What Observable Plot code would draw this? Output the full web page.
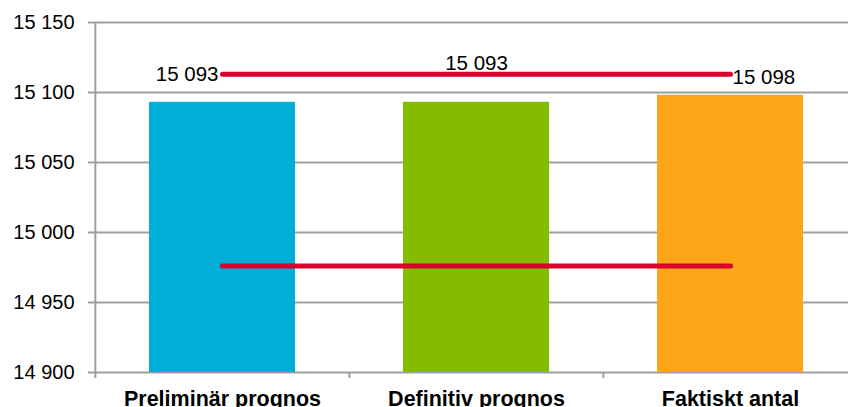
<!DOCTYPE html>
<html>
<head>
<meta charset="utf-8">
<script src="https://cdn.jsdelivr.net/npm/d3@7"></script>
<script src="https://cdn.jsdelivr.net/npm/@observablehq/plot@0.6"></script>
<style>
  html, body { margin: 0; padding: 0; background: #fff; }
  svg { display: block; }
</style>
</head>
<body>
<div id="chart"></div>
<script>
// ---- data ----
const categories = ["Preliminär prognos", "Definitiv prognos", "Faktiskt antal"];
const values = [15093, 15093, 15098];
const colors = ["#00AED8", "#84BD00", "#FFA51A"];
const upperLine = [15113, 15113, 15113];
const lowerLine = [14976, 14976, 14976];
const yTicks = [14900, 14950, 15000, 15050, 15100, 15150];

// ---- tables ----
const bars = categories.map((c, i) => ({cat: c, value: values[i], color: colors[i]}));
const upper = categories.map((c, i) => ({cat: c, value: upperLine[i], label: values[i], i}));
const lower = categories.map((c, i) => ({cat: c, value: lowerLine[i]}));

const fmt = d => d3.format(",")(d).replace(/,/g, " ");
const font = "Liberation Sans, Arial, Helvetica, sans-serif";
const gridColor = "#a0a0a0";

const W = 848, H = 407;
const xLeft = 94, xRight = 857;
const halfStep = (xRight - xLeft) / categories.length / 2;

const chart = Plot.plot({
  width: W,
  height: H,
  marginTop: 22,
  marginBottom: 35,
  marginLeft: xLeft,
  marginRight: 0,
  style: {fontFamily: font, background: "#fff", color: "#000"},
  x: {domain: categories, range: [xLeft, xRight], paddingInner: 0.426, paddingOuter: 0.213},
  y: {domain: [14900, 15150]},
  marks: [
    Plot.ruleY(yTicks, {stroke: gridColor, strokeWidth: 2}),
    Plot.barY(bars, {x: "cat", y1: 14900, y2: "value", fill: "color"}),
    // left axis line
    Plot.ruleX(categories.slice(0, 1), {x: d => d, dx: -halfStep, stroke: gridColor, strokeWidth: 2, insetBottom: -6}),
    // category separators on x axis
    Plot.ruleX(categories.slice(1), {x: d => d, y1: () => 14900, y2: () => 14900, dx: -halfStep, stroke: gridColor, strokeWidth: 2, insetBottom: -6}),
    Plot.axisY({ticks: yTicks, tickFormat: fmt, tickSize: 6, tickPadding: 14, stroke: gridColor, strokeWidth: 2, fill: "#000", fontSize: 20, label: null}),
    Plot.axisX({tickSize: 0, tickPadding: 18, fontSize: 21.5, fontWeight: "bold", fill: "#000", label: null}),
    Plot.lineY(upper, {x: "cat", y: "value", stroke: "#DA002E", strokeWidth: 5, strokeLinecap: "round"}),
    Plot.lineY(lower, {x: "cat", y: "value", stroke: "#DA002E", strokeWidth: 5, strokeLinecap: "round"}),
    Plot.text(upper.filter(d => d.i === 0), {x: "cat", y: "value", text: d => fmt(d.label), textAnchor: "end", dx: -4, dy: 0, fontSize: 20.5, fill: "#000"}),
    Plot.text(upper.filter(d => d.i === 1), {x: "cat", y: "value", text: d => fmt(d.label), textAnchor: "middle", dy: -11, fontSize: 20.5, fill: "#000"}),
    Plot.text(upper.filter(d => d.i === 2), {x: "cat", y: "value", text: d => fmt(d.label), textAnchor: "start", dx: 2, dy: 3, fontSize: 20.5, fill: "#000"})
  ]
});
document.getElementById("chart").appendChild(chart);
</script>
</body>
</html>
